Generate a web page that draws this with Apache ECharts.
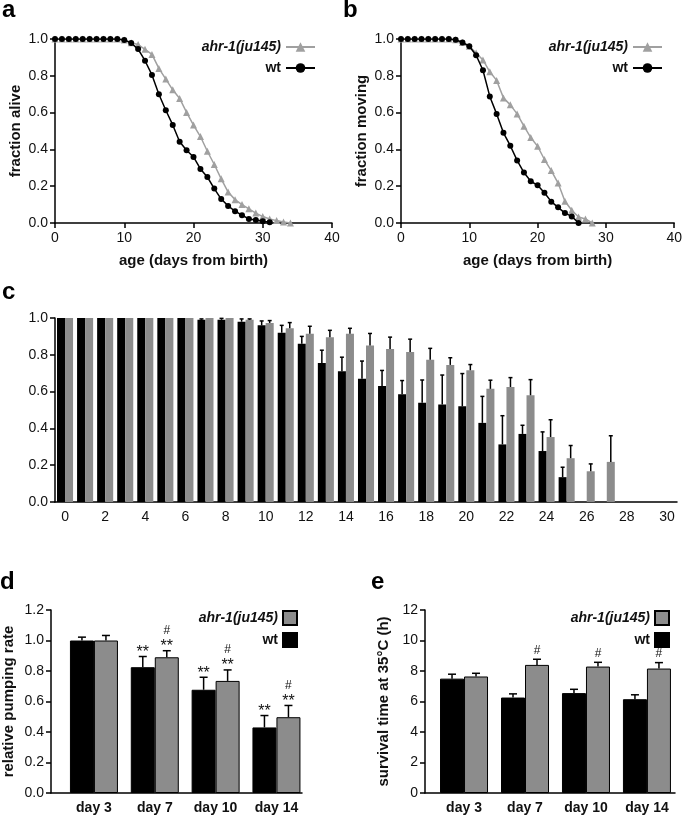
<!DOCTYPE html>
<html>
<head>
<meta charset="utf-8">
<script src="https://cdn.jsdelivr.net/npm/echarts@6/dist/echarts.min.js"></script>
<style>
  html, body { margin: 0; padding: 0; background: #fff; }
  #chart { width: 685px; height: 817px; }
</style>
</head>
<body>
<div id="chart"></div>
<script>
// a: fraction alive, one value per day starting at day 0
var aliveWt = [1, 1, 1, 1, 1, 1, 1, 1, 1, 1, 0.995, 0.978, 0.945, 0.882, 0.805, 0.70, 0.613, 0.533,
  0.442, 0.395, 0.359, 0.294, 0.25, 0.187, 0.13, 0.093, 0.064, 0.042, 0.022, 0.016, 0.01, 0.004];
var aliveAhr = [1, 1, 1, 1, 1, 1, 1, 1, 1, 1, 0.995, 0.98, 0.97, 0.944, 0.916, 0.84, 0.782, 0.724,
  0.677, 0.601, 0.532, 0.47, 0.39, 0.318, 0.24, 0.168, 0.127, 0.1, 0.077, 0.054, 0.035, 0.022,
  0.013, 0.006, 0];

// b: fraction moving
var movingWt = [1, 1, 1, 1, 1, 1, 1, 1, 0.996, 0.981, 0.961, 0.912, 0.83, 0.688, 0.593, 0.49, 0.42,
  0.34, 0.274, 0.227, 0.205, 0.164, 0.116, 0.085, 0.054, 0.036, 0];
var movingAhr = [1, 1, 1, 1, 1, 1, 1, 1, 0.996, 0.981, 0.961, 0.924, 0.886, 0.822, 0.775, 0.68, 0.642,
  0.593, 0.526, 0.464, 0.417, 0.345, 0.285, 0.217, 0.118, 0.069, 0.033, 0.022, 0];

// c: per-day bars, days 0..30
var cDays = [];
for (var d = 0; d <= 30; d++) cDays.push(String(d));
var cWt = [1, 1, 1, 1, 1, 1, 1, 0.99, 0.99, 0.98, 0.96, 0.92, 0.86, 0.755, 0.71, 0.67, 0.63, 0.585,
  0.54, 0.53, 0.52, 0.43, 0.313, 0.37, 0.277, 0.135, 0, 0, 0, 0, 0];
var cWtErr = [0, 0, 0, 0, 0, 0, 0, 0.005, 0.008, 0.015, 0.024, 0.04, 0.04, 0.07, 0.077, 0.096, 0.085,
  0.075, 0.123, 0.16, 0.178, 0.144, 0.156, 0.047, 0.104, 0.054, 0, 0, 0, 0, 0];
var cAhr = [1, 1, 1, 1, 1, 1, 1, 1, 1, 0.99, 0.973, 0.944, 0.915, 0.896, 0.914, 0.851, 0.831, 0.815,
  0.773, 0.745, 0.716, 0.615, 0.625, 0.58, 0.353, 0.238, 0.167, 0.218, 0, 0, 0];
var cAhrErr = [0, 0, 0, 0, 0, 0, 0, 0, 0, 0.005, 0.013, 0.031, 0.04, 0.037, 0.03, 0.065, 0.065, 0.07,
  0.062, 0.039, 0.031, 0.047, 0.051, 0.085, 0.094, 0.069, 0.04, 0.142, 0, 0, 0];

// d, e: four time points
var dayLabels = ['day 3', 'day 7', 'day 10', 'day 14'];
var pumpWt = [1.0, 0.825, 0.677, 0.43];
var pumpWtErr = [0.022, 0.07, 0.082, 0.078];
var pumpAhr = [1.0, 0.89, 0.735, 0.497];
var pumpAhrErr = [0.033, 0.043, 0.072, 0.077];
var pumpWtStars = ['', '**', '**', '**'];
var pumpAhrStars = ['', '**', '**', '**'];
var pumpAhrHash = ['', '#', '#', '#'];

var heatWt = [7.5, 6.26, 6.55, 6.15];
var heatWtErr = [0.29, 0.24, 0.25, 0.29];
var heatAhr = [7.64, 8.4, 8.29, 8.16];
var heatAhrErr = [0.21, 0.37, 0.28, 0.39];
var heatAhrHash = ['', '#', '#', '#'];

var FONT = 'Liberation Sans, Arial, Helvetica, sans-serif';
var INK = '#111';
var GRAY_LINE = '#a0a0a0';
var GRAY_BAR = '#8c8c8c';

function byDay(arr) {
  return arr.map(function (v, i) { return [i, v]; });
}
function withErr(vals, errs) {
  return vals.map(function (v, i) { return [i, v, errs[i]]; });
}

function yAxisOf(idx, max, step, digits, name, gap) {
  return {
    type: 'value', gridIndex: idx, min: 0, max: max, interval: step,
    name: name || '', nameLocation: 'middle', nameGap: gap || 30,
    nameTextStyle: { fontFamily: FONT, fontSize: 15, fontWeight: 'bold', color: INK },
    axisLine: { show: true, onZero: false, lineStyle: { color: '#000', width: 1.5 } },
    axisTick: { show: true, length: 5, lineStyle: { color: '#000', width: 1.5 } },
    axisLabel: {
      fontFamily: FONT, fontSize: 14, color: INK, margin: 7,
      formatter: function (v) { return v.toFixed(digits); }
    },
    splitLine: { show: false }
  };
}

function ageAxis(idx) {
  return {
    type: 'value', gridIndex: idx, min: 0, max: 40, interval: 10,
    name: 'age (days from birth)', nameLocation: 'middle', nameGap: 30,
    nameTextStyle: { fontFamily: FONT, fontSize: 15, fontWeight: 'bold', color: INK },
    axisLine: { onZero: false, lineStyle: { color: '#000', width: 1.5 } },
    axisTick: { length: 5, lineStyle: { color: '#000', width: 1.5 } },
    axisLabel: { fontFamily: FONT, fontSize: 14, color: INK, margin: 8 },
    splitLine: { show: false }
  };
}

function dayAxis(idx, min, max) {
  return {
    type: 'value', gridIndex: idx, min: min, max: max,
    axisLine: { onZero: false, lineStyle: { color: '#000', width: 1.5 } },
    axisTick: { show: false },
    axisLabel: {
      customValues: [0, 1, 2, 3], margin: 8,
      fontFamily: FONT, fontSize: 14, fontWeight: 'bold', color: INK,
      formatter: function (v) { return dayLabels[Math.round(v)]; }
    },
    splitLine: { show: false }
  };
}

// error whiskers (upper only) plus optional significance marks
function whiskers(shiftOf, halfCap, stars, hashes) {
  return function (params, api) {
    var i = params.dataIndex;
    var x = api.value(0), v = api.value(1), e = api.value(2);
    var base = api.coord([x, v]);
    var top = api.coord([x, v + e]);
    var cx = base[0] + shiftOf(api);
    var kids = [];
    var ln = { stroke: '#000', lineWidth: 1.5 };
    if (e > 0) {
      kids.push({ type: 'line', shape: { x1: cx, y1: base[1], x2: cx, y2: top[1] }, style: ln });
      kids.push({ type: 'line', shape: { x1: cx - halfCap, y1: top[1], x2: cx + halfCap, y2: top[1] }, style: ln });
    }
    var ty = top[1];
    if (stars && stars[i]) {
      kids.push({ type: 'text', style: { text: stars[i], x: cx, y: ty - 4, align: 'center', verticalAlign: 'middle',
        font: '16px ' + FONT, fill: INK } });
      ty -= 11;
    }
    if (hashes && hashes[i]) {
      kids.push({ type: 'text', style: { text: hashes[i], x: cx, y: ty - 9, align: 'center', verticalAlign: 'middle',
        font: '12px ' + FONT, fill: INK } });
    }
    return { type: 'group', children: kids };
  };
}
function bandShift(sign) {
  return function (api) { return sign * 0.2 * api.size([1, 0])[0]; };
}
function pxShift(px) {
  return function () { return px; };
}

var legendText = {
  formatter: function (name) {
    return name.indexOf('ahr') >= 0 ? '{i|ahr-1(ju145)}' : '{b|wt}';
  },
  textStyle: {
    fontFamily: FONT, fontSize: 14, color: INK,
    rich: {
      i: { fontFamily: FONT, fontSize: 14, fontStyle: 'italic', fontWeight: 'bold', color: INK },
      b: { fontFamily: FONT, fontSize: 14, fontWeight: 'bold', color: INK }
    }
  }
};
function legendAt(names, right, top, w, h, gap, icon) {
  var lg = Object.assign({
    data: names, orient: 'vertical', align: 'right', right: right, top: top,
    itemWidth: w, itemHeight: h, itemGap: gap, selectedMode: false, padding: 0
  }, legendText);
  if (icon) lg.icon = icon;
  return lg;
}

function curve(name, idx, data, isWt) {
  return {
    name: name, type: 'line', xAxisIndex: idx, yAxisIndex: idx, data: byDay(data),
    symbol: isWt ? 'circle' : 'triangle', symbolSize: isWt ? 6 : 7,
    itemStyle: { color: isWt ? '#000' : GRAY_LINE },
    lineStyle: { color: isWt ? '#000' : GRAY_LINE, width: 1.5 },
    z: isWt ? 3 : 2
  };
}

function panelLabel(t, x, y) {
  return { type: 'text', left: x, top: y, style: { text: t, font: 'bold 24px ' + FONT, fill: '#000' } };
}

var chart = echarts.init(document.getElementById('chart'), null, { renderer: 'canvas' });
chart.setOption({
  animation: false,
  backgroundColor: '#fff',
  graphic: [
    panelLabel('a', 2, -2), panelLabel('b', 343, -2), panelLabel('c', 2, 280),
    panelLabel('d', 0, 570), panelLabel('e', 371, 570)
  ],
  grid: [
    { left: 55, top: 39, width: 277, height: 184 },
    { left: 401, top: 39, width: 276, height: 184 },
    { left: 55, top: 318, width: 622, height: 184 },
    { left: 49, top: 610, width: 253, height: 183 },
    { left: 425, top: 610, width: 250, height: 183 }
  ],
  legend: [
    legendAt(['a_ahr', 'a_wt'], 369, 40, 29, 12, 7),
    legendAt(['b_ahr', 'b_wt'], 22, 40, 29, 12, 7),
    legendAt(['d_ahr', 'd_wt'], 387, 610, 14, 14, 6, 'rect'),
    legendAt(['e_ahr', 'e_wt'], 15, 610, 14, 14, 6, 'rect')
  ],
  xAxis: [
    ageAxis(0),
    ageAxis(1),
    {
      type: 'category', gridIndex: 2, data: cDays,
      axisLine: { onZero: false, lineStyle: { color: '#000', width: 1.5 } },
      axisTick: { alignWithLabel: true, interval: 0, length: 5, lineStyle: { color: '#000', width: 1.5 } },
      axisLabel: { interval: 1, fontFamily: FONT, fontSize: 14, color: INK, margin: 8 }
    },
    dayAxis(3, -0.706, 3.42),
    dayAxis(4, -0.64, 3.46)
  ],
  yAxis: [
    yAxisOf(0, 1, 0.2, 1, 'fraction alive', 32),
    yAxisOf(1, 1, 0.2, 1, 'fraction moving', 32),
    yAxisOf(2, 1, 0.2, 1, '', 30),
    yAxisOf(3, 1.2, 0.2, 1, 'relative pumping rate', 35),
    yAxisOf(4, 12, 2, 0, 'survival time at 35°C (h)', 34)
  ],
  series: [
    curve('a_ahr', 0, aliveAhr, false),
    curve('a_wt', 0, aliveWt, true),
    curve('b_ahr', 1, movingAhr, false),
    curve('b_wt', 1, movingWt, true),

    { name: 'c_wt', type: 'bar', xAxisIndex: 2, yAxisIndex: 2, data: cWt,
      barGap: '0%', barCategoryGap: '20%', itemStyle: { color: '#000' } },
    { name: 'c_ahr', type: 'bar', xAxisIndex: 2, yAxisIndex: 2, data: cAhr,
      barGap: '0%', barCategoryGap: '20%', itemStyle: { color: GRAY_BAR } },
    { type: 'custom', xAxisIndex: 2, yAxisIndex: 2, data: withErr(cWt, cWtErr),
      renderItem: whiskers(bandShift(-1), 2, null, null), z: 3 },
    { type: 'custom', xAxisIndex: 2, yAxisIndex: 2, data: withErr(cAhr, cAhrErr),
      renderItem: whiskers(bandShift(1), 2, null, null), z: 3 },

    { name: 'd_wt', type: 'bar', xAxisIndex: 3, yAxisIndex: 3, data: byDay(pumpWt),
      barWidth: 24, barGap: '0%', itemStyle: { color: '#000', borderColor: '#000', borderWidth: 1 } },
    { name: 'd_ahr', type: 'bar', xAxisIndex: 3, yAxisIndex: 3, data: byDay(pumpAhr),
      barWidth: 24, barGap: '0%', itemStyle: { color: GRAY_BAR, borderColor: '#000', borderWidth: 1 } },
    { type: 'custom', xAxisIndex: 3, yAxisIndex: 3, data: withErr(pumpWt, pumpWtErr),
      renderItem: whiskers(pxShift(-12), 4, pumpWtStars, null), z: 3 },
    { type: 'custom', xAxisIndex: 3, yAxisIndex: 3, data: withErr(pumpAhr, pumpAhrErr),
      renderItem: whiskers(pxShift(12), 4, pumpAhrStars, pumpAhrHash), z: 3 },

    { name: 'e_wt', type: 'bar', xAxisIndex: 4, yAxisIndex: 4, data: byDay(heatWt),
      barWidth: 24, barGap: '0%', itemStyle: { color: '#000', borderColor: '#000', borderWidth: 1 } },
    { name: 'e_ahr', type: 'bar', xAxisIndex: 4, yAxisIndex: 4, data: byDay(heatAhr),
      barWidth: 24, barGap: '0%', itemStyle: { color: GRAY_BAR, borderColor: '#000', borderWidth: 1 } },
    { type: 'custom', xAxisIndex: 4, yAxisIndex: 4, data: withErr(heatWt, heatWtErr),
      renderItem: whiskers(pxShift(-12), 4, null, null), z: 3 },
    { type: 'custom', xAxisIndex: 4, yAxisIndex: 4, data: withErr(heatAhr, heatAhrErr),
      renderItem: whiskers(pxShift(12), 4, null, heatAhrHash), z: 3 }
  ]
});
</script>
</body>
</html>
